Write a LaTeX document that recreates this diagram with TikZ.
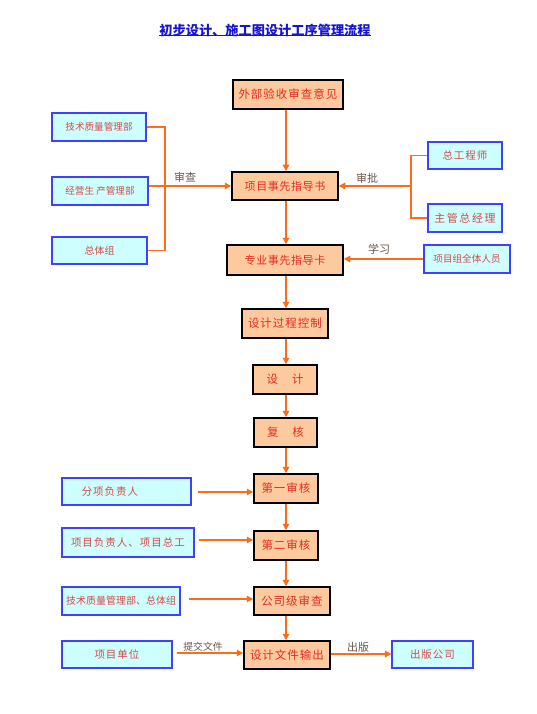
\documentclass[tikz,border=0pt]{standalone}
\usepackage{fontspec}
\setmainfont{Noto Sans CJK SC}
\newfontfamily\fn{Noto Sans CJK SC}
\usetikzlibrary{arrows.meta,shadows}
\definecolor{ofill}{RGB}{252,202,158}
\definecolor{otext}{RGB}{226,44,36}
\definecolor{bfill}{RGB}{206,255,255}
\definecolor{bdraw}{RGB}{64,64,255}
\definecolor{btext}{RGB}{214,72,72}
\definecolor{arr}{RGB}{255,108,24}
\definecolor{lab}{RGB}{105,85,75}
\definecolor{ttl}{RGB}{20,20,210}
\newcommand\cjkfont[2]{\fn\fontsize{#1}{#1}\selectfont\addfontfeature{LetterSpace=#2}}
\tikzset{
  obox/.style={draw=black, line width=1.5pt, fill=ofill, text=otext, inner sep=0pt,
    font=\cjkfont{11.5}{8.7},
    drop shadow={shadow xshift=1.2pt, shadow yshift=-1.2pt, fill=black, opacity=0.45}},
  onarrow/.style={font=\cjkfont{11}{5.5}},
  bbox/.style={draw=bdraw, line width=1.1pt, fill=bfill, text=btext, inner sep=0pt},
  arrline/.style={draw=arr, line width=1.3pt},
  arrow/.style={arrline, -{Triangle[length=6.5pt,width=6.5pt]}},
  lbl/.style={text=lab, inner sep=0pt, font=\fn\fontsize{11}{12}\selectfont},
  tight/.style={font=\fn\fontsize{9.6}{11}\selectfont},
  mid/.style={font=\cjkfont{10.5}{9.5}},
  wide/.style={font=\cjkfont{11}{14}},
}
\begin{document}
\begin{tikzpicture}[x=1pt,y=-1pt]
\useasboundingbox (0,0) rectangle (536,714);
\fill[white] (0,0) rectangle (536,714);
% title
\node[text=ttl, inner sep=0pt, font=\fn\bfseries\fontsize{13.2}{15}\selectfont] (title) at (265,30) {初步设计、施工图设计工序管理流程};
\draw[ttl, line width=0.9pt] (title.south west) ++(0,-1) coordinate (u1) -- (u1 -| title.south east);
\coordinate (col) at (286,0);
% center column
\node[obox, minimum width=110pt, minimum height=29pt] (o1) at (288,94.5) {外部验收审查意见};
\node[obox, onarrow, minimum width=106pt, minimum height=28pt] (o2) at (285,186) {项目事先指导书};
\node[obox, onarrow, minimum width=116pt, minimum height=30pt] (o3) at (285,260) {专业事先指导卡};
\node[obox, minimum width=86pt, minimum height=29pt] (o4) at (285,323.5) {设计过程控制};
\node[obox, minimum width=64pt, minimum height=29pt] (o5) at (285,379.5) {设\hspace{14pt}计};
\node[obox, minimum width=63pt, minimum height=29pt] (o6) at (285.5,432.5) {复\hspace{14pt}核};
\node[obox, minimum width=64pt, minimum height=29pt] (o7) at (286,488.5) {第一审核};
\node[obox, minimum width=64pt, minimum height=29pt] (o8) at (286,545.5) {第二审核};
\node[obox, minimum width=76pt, minimum height=28pt] (o9) at (292,601) {公司级审查};
\node[obox, minimum width=86pt, minimum height=28pt] (o10) at (287,655) {设计文件输出};
% left top group
\node[bbox, tight, minimum width=94pt, minimum height=28pt] (b1) at (99,127) {技术质量管理部};
\node[bbox, tight, minimum width=96pt, minimum height=28pt] (b2) at (100,191) {经营生 产管理部};
\node[bbox, font=\fn\fontsize{10}{12}\selectfont, minimum width=95pt, minimum height=27pt] (b3) at (99.5,250.5) {总体组};
% right group
\node[bbox, mid, minimum width=74pt, minimum height=27pt] (r1) at (465,155.5) {总工程师};
\node[bbox, wide, minimum width=74pt, minimum height=28pt] (r2) at (465,218) {主管总经理};
\node[bbox, tight, minimum width=86pt, minimum height=28pt] (r3) at (467,259) {项目组全体人员};
% bottom left
\node[bbox, minimum width=129pt, minimum height=27pt] (l1) at (126.5,491.5) {};
\node[text=btext, inner sep=0pt, mid] (l1t) at (110,491.5) {分项负责人};
\node[bbox, mid, minimum width=132pt, minimum height=29pt] (l2) at (128,542.5) {项目负责人、项目总工};
\node[bbox, font=\fn\fontsize{10}{12}\selectfont, minimum width=118pt, minimum height=28pt] (l3) at (121,601) {技术质量管理部、总体组};
\node[bbox, mid, minimum width=110pt, minimum height=27pt] (l4) at (117,654.5) {项目单位};
\node[bbox, mid, minimum width=81pt, minimum height=27pt] (pub) at (432.5,654.5) {出版公司};
% vertical arrows
\draw[arrow] (o1.south -| col) -- (o2.north -| col);
\draw[arrow] (o2.south -| col) -- (o3.north -| col);
\draw[arrow] (o3.south -| col) -- (o4.north -| col);
\draw[arrow] (o4.south -| col) -- (o5.north -| col);
\draw[arrow] (o5.south -| col) -- (o6.north -| col);
\draw[arrow] (o6.south -| col) -- (o7.north -| col);
\draw[arrow] (o7.south -| col) -- (o8.north -| col);
\draw[arrow] (o8.south -| col) -- (o9.north -| col);
\draw[arrow] (o9.south -| col) -- (o10.north -| col);
% left bracket
\coordinate (lb) at (165,0);
\draw[arrline] (b1.east) -- (b1.east -| lb) -- (b3.east -| lb) -- (b3.east);
\draw[arrow] (b2.east |- o2.west) -- (o2.west);
\node[lbl] (shencha) at (185,177) {审查};
% right bracket
\coordinate (rb) at (411,0);
\draw[arrline] (r1.west) -- (r1.west -| rb) -- (r2.west -| rb) -- (r2.west);
\draw[arrow] (rb |- o2.east) -- (o2.east);
\node[lbl] (shenpi) at (367,178) {审批};
\draw[arrow] (r3.west) -- (r3.west -| o3.east);
\node[lbl] (xuexi) at (379,249) {学习};
% bottom left arrows
\draw[arrow, shorten <=6pt] ([yshift=-0.5pt]l1.east) -- ([yshift=-0.5pt]l1.east -| o7.west);
\draw[arrow, shorten <=4pt] ([yshift=2.5pt]l2.east) -- ([yshift=2.5pt]l2.east -| o8.west);
\draw[arrow, shorten <=8pt] ([yshift=2pt]l3.east) -- ([yshift=2pt]l3.east -| o9.west);
\draw[arrow, shorten <=4pt] ([yshift=1.5pt]l4.east) -- ([yshift=1.5pt]l4.east -| o10.west);
\node[lbl, font=\fn\fontsize{9.8}{11}\selectfont] (tijiao) at (203,647) {提交文件};
\draw[arrow] ([yshift=1pt]o10.east) -- ([yshift=1pt]o10.east -| pub.west);
\node[lbl] (chuban) at (358,647) {出版};
\end{tikzpicture}
\end{document}
